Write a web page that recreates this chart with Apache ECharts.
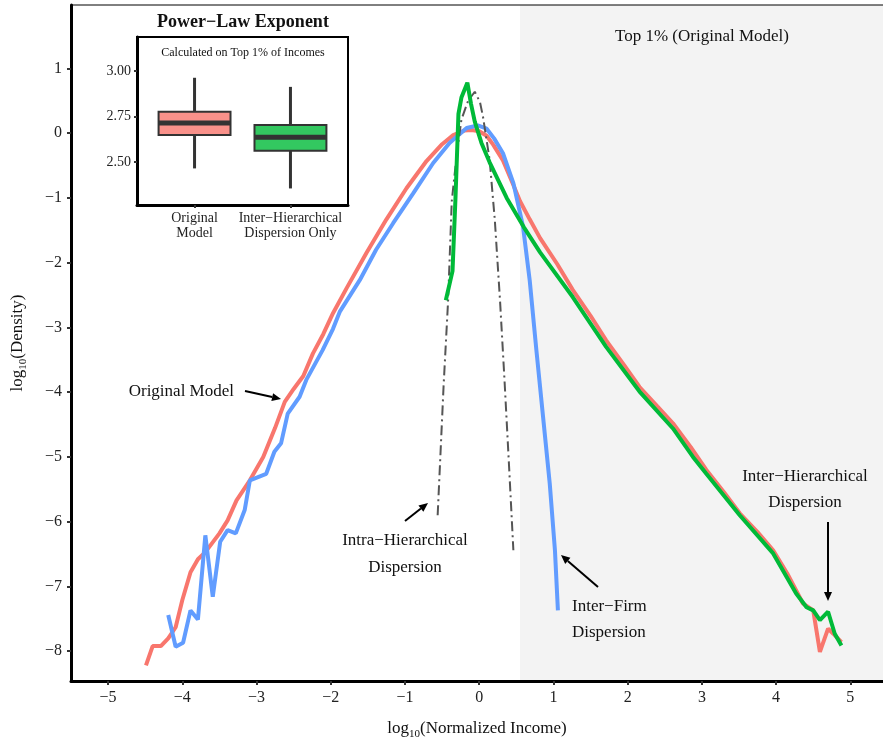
<!DOCTYPE html>
<html><head><meta charset="utf-8">
<script src="https://cdn.jsdelivr.net/npm/echarts@6/dist/echarts.min.js"></script>
<style>html,body{margin:0;padding:0;background:#fff}#c{width:883px;height:740px}</style>
</head><body><div id="c"></div>
<script>
// ---------- data ----------
const xTicks = [-5, -4, -3, -2, -1, 0, 1, 2, 3, 4, 5];
const yTicks = [-8, -7, -6, -5, -4, -3, -2, -1, 0, 1];
const top1Threshold = 0.55;

const originalModel = [
  [-4.49,-8.22],[-4.40,-7.92],[-4.29,-7.92],[-4.19,-7.80],[-4.09,-7.63],[-4.00,-7.21],
  [-3.89,-6.78],[-3.79,-6.58],[-3.69,-6.47],[-3.50,-6.18],[-3.39,-5.98],[-3.27,-5.67],
  [-3.09,-5.36],[-2.91,-5.00],[-2.75,-4.55],[-2.62,-4.15],[-2.50,-3.95],[-2.37,-3.75],
  [-2.24,-3.40],[-2.10,-3.10],[-1.97,-2.78],[-1.79,-2.40],[-1.52,-1.85],[-1.25,-1.33],
  [-0.98,-0.85],[-0.71,-0.43],[-0.50,-0.17],[-0.35,-0.03],[-0.20,0.04],[-0.10,0.05],
  [0.00,0.03],[0.10,-0.04],[0.19,-0.18],[0.32,-0.42],[0.46,-0.80],[0.55,-1.05],
  [0.68,-1.33],[0.82,-1.62],[1.05,-2.02],[1.26,-2.42],[1.50,-2.82],[1.71,-3.20],
  [1.95,-3.58],[2.16,-3.92],[2.40,-4.22],[2.61,-4.48],[2.85,-4.85],[3.06,-5.20],
  [3.30,-5.55],[3.51,-5.87],[3.75,-6.16],[3.96,-6.44],[4.15,-6.80],[4.36,-7.26],
  [4.50,-7.37],[4.59,-8.01],[4.70,-7.65],[4.77,-7.73],[4.88,-7.86]
];
const interFirm = [
  [-4.19,-7.44],[-4.09,-7.93],[-3.99,-7.87],[-3.89,-7.37],[-3.79,-7.51],[-3.69,-6.21],
  [-3.59,-7.16],[-3.49,-6.31],[-3.39,-6.13],[-3.28,-6.18],[-3.16,-5.82],[-3.09,-5.36],
  [-2.87,-5.26],[-2.76,-4.92],[-2.67,-4.79],[-2.58,-4.33],[-2.42,-4.07],[-2.33,-3.81],
  [-2.11,-3.35],[-1.97,-3.02],[-1.88,-2.76],[-1.61,-2.27],[-1.39,-1.80],[-1.16,-1.39],
  [-0.89,-0.93],[-0.62,-0.46],[-0.40,-0.15],[-0.17,0.08],[-0.02,0.12],[0.10,0.07],
  [0.20,-0.08],[0.32,-0.31],[0.46,-0.77],[0.59,-1.44],[0.68,-2.27],[0.77,-3.35],
  [0.86,-4.38],[0.95,-5.41],[1.02,-6.44],[1.06,-7.37]
];
const intraHierarchical = [
  [-0.56,-5.90],[-0.52,-4.90],[-0.48,-3.90],[-0.42,-2.60],[-0.37,-1.05],[-0.30,-0.30],
  [-0.24,0.21],[-0.15,0.50],[-0.06,0.64],[0.01,0.48],[0.05,0.26],[0.14,-0.41],
  [0.21,-1.34],[0.28,-2.58],[0.34,-3.80],[0.40,-5.10],[0.46,-6.44]
];
const interHierarchical = [
  [-0.45,-2.58],[-0.36,-2.13],[-0.32,-1.00],[-0.28,0.30],[-0.24,0.55],[-0.16,0.78],
  [-0.11,0.45],[-0.06,0.18],[0.03,-0.15],[0.14,-0.45],[0.37,-1.00],[0.60,-1.45],
  [0.82,-1.84],[1.26,-2.53],[1.71,-3.30],[2.16,-3.99],[2.61,-4.56],[2.88,-5.00],
  [3.06,-5.26],[3.51,-5.90],[3.96,-6.49],[4.27,-7.11],[4.41,-7.32],[4.50,-7.37],
  [4.59,-7.52],[4.70,-7.39],[4.79,-7.73],[4.88,-7.91]
];

const boxCategories = ['Original\nModel', 'Inter\u2212Hierarchical\nDispersion Only'];
const boxStats = [ // [min, q1, median, q3, max]
  [2.465, 2.649, 2.714, 2.776, 2.963],
  [2.355, 2.562, 2.636, 2.704, 2.913]
];
const boxColors = ['#F9918A', '#33C860'];
const boxTicks = [2.5, 2.75, 3.0];

// ---------- chart ----------
const FONT = '"Liberation Serif", "DejaVu Serif", serif';
const minus = v => String(v).replace('-', '\u2212');

function arrow(x1, y1, x2, y2) {
  const a = Math.atan2(y2 - y1, x2 - x1), L = 9, W = 4;
  const bx = x2 - L * Math.cos(a), by = y2 - L * Math.sin(a);
  return [
    { type: 'line', shape: { x1, y1, x2: bx, y2: by }, style: { stroke: '#000', lineWidth: 2 }, z: 100 },
    { type: 'polygon', shape: { points: [[x2, y2], [bx + W * Math.sin(a), by - W * Math.cos(a)], [bx - W * Math.sin(a), by + W * Math.cos(a)]] }, style: { fill: '#000' }, z: 100 }
  ];
}
function label(text, x, y, align, size, weight) {
  return { type: 'text', x, y, z: 100, style: { text, fill: '#111', font: (weight || 'normal') + ' ' + (size || 17) + 'px ' + FONT,
    align: align || 'center', verticalAlign: 'middle', textAlign: align || 'center', textVerticalAlign: 'middle' } };
}

const chart = echarts.init(document.getElementById('c'), null, { renderer: 'canvas' });
const lineSeries = (name, data, color, width, type, z) => ({
  name, type: 'line', data, xAxisIndex: 0, yAxisIndex: 0, showSymbol: false, symbol: 'none',
  lineStyle: { color, width, type: type || 'solid' }, z: z || 3, silent: true
});

chart.setOption({
  animation: false,
  backgroundColor: '#fff',
  grid: [
    { left: 71, right: 0, top: 5, bottom: 59, containLabel: false, outerBoundsMode: 'none' },
    { left: 137, top: 37, width: 211, height: 168, show: true, backgroundColor: '#fff', borderColor: '#000', borderWidth: 2, z: 10,
      containLabel: false, outerBoundsMode: 'none' }
  ],
  xAxis: [
    { type: 'value', gridIndex: 0, min: -5.5, max: 5.44, splitLine: { show: false }, z: 20,
      axisLine: { onZero: false, lineStyle: { color: '#000', width: 3 } },
      axisTick: { customValues: xTicks, length: 4, lineStyle: { color: '#333', width: 2 } },
      axisLabel: { customValues: xTicks, formatter: minus, color: '#222', fontFamily: FONT, fontSize: 16, margin: 9 },
      name: '{a|log}{s|10}{a|(Normalized Income)}', nameLocation: 'middle', nameGap: 37,
      nameTextStyle: { rich: { a: { fontFamily: FONT, fontSize: 17, color: '#111', lineHeight: 22 },
        s: { fontFamily: FONT, fontSize: 11, color: '#111', lineHeight: 22, verticalAlign: 'bottom', padding: [6, 0, 0, 0] } } } },
    { type: 'value', gridIndex: 1, min: 0.4, max: 2.6, splitLine: { show: false }, z: 21,
      axisLine: { onZero: false, lineStyle: { color: '#000', width: 3 } },
      axisTick: { customValues: [1, 2], length: 3, lineStyle: { color: '#333', width: 2 } },
      axisLabel: { customValues: [1, 2], formatter: v => boxCategories[Math.round(v) - 1], color: '#222', fontFamily: FONT, fontSize: 14, lineHeight: 15, margin: 6 } }
  ],
  yAxis: [
    { type: 'value', gridIndex: 0, min: -8.46, max: 1.98, splitLine: { show: false }, z: 20,
      axisLine: { onZero: false, lineStyle: { color: '#000', width: 3 } },
      axisTick: { customValues: yTicks, length: 4, lineStyle: { color: '#333', width: 2 } },
      axisLabel: { customValues: yTicks, formatter: minus, color: '#222', fontFamily: FONT, fontSize: 16, margin: 9 },
      name: '{a|log}{s|10}{a|(Density)}', nameLocation: 'middle', nameGap: 42, nameRotate: 90,
      nameTextStyle: { rich: { a: { fontFamily: FONT, fontSize: 17, color: '#111', lineHeight: 22 },
        s: { fontFamily: FONT, fontSize: 11, color: '#111', lineHeight: 22, verticalAlign: 'bottom', padding: [6, 0, 0, 0] } } } },
    { type: 'value', gridIndex: 1, min: 2.264, max: 3.187, splitLine: { show: false }, z: 21,
      axisLine: { onZero: false, lineStyle: { color: '#000', width: 3 } },
      axisTick: { customValues: boxTicks, length: 3, lineStyle: { color: '#333', width: 2 } },
      axisLabel: { customValues: boxTicks, formatter: v => v.toFixed(2), color: '#222', fontFamily: FONT, fontSize: 14, margin: 6 } }
  ],
  series: [
    { type: 'line', data: [], xAxisIndex: 0, yAxisIndex: 0, z: 1, silent: true,
      markArea: { silent: true, itemStyle: { color: '#F3F3F3' }, data: [[{ xAxis: top1Threshold }, { xAxis: 5.44 }]] } },
    lineSeries('Original Model', originalModel, '#F8766D', 4, 'solid', 3),
    lineSeries('Inter-Firm Dispersion', interFirm, '#619CFF', 4, 'solid', 4),
    lineSeries('Intra-Hierarchical Dispersion', intraHierarchical, '#555555', 2, [10, 4, 2, 4], 5),
    lineSeries('Inter-Hierarchical Dispersion', interHierarchical, '#00BA38', 4, 'solid', 6),
    { type: 'custom', xAxisIndex: 1, yAxisIndex: 1, z: 12, silent: true,
      data: boxStats.map((s, i) => [i + 1].concat(s)),
      renderItem: (params, api) => {
        const x = api.value(0), i = params.dataIndex;
        const pMin = api.coord([x, api.value(1)]), pQ1 = api.coord([x, api.value(2)]);
        const pMed = api.coord([x, api.value(3)]), pQ3 = api.coord([x, api.value(4)]);
        const pMax = api.coord([x, api.value(5)]);
        const w = api.size([0.75, 0])[0], cx = pMed[0];
        return { type: 'group', children: [
          { type: 'line', shape: { x1: cx, y1: pMax[1], x2: cx, y2: pMin[1] }, style: { stroke: '#333', lineWidth: 3 } },
          { type: 'rect', shape: { x: cx - w / 2, y: pQ3[1], width: w, height: pQ1[1] - pQ3[1] }, style: { fill: boxColors[i], stroke: '#333', lineWidth: 2 } },
          { type: 'line', shape: { x1: cx - w / 2, y1: pMed[1], x2: cx + w / 2, y2: pMed[1] }, style: { stroke: '#333', lineWidth: 5 } }
        ] };
      } }
  ],
  graphic: [].concat(
    [{ type: 'line', shape: { x1: 71, y1: 5, x2: 883, y2: 5 }, style: { stroke: '#000', lineWidth: 1 }, z: 100 }],
    [label('Power\u2212Law Exponent', 243, 22, 'center', 18, 'bold')],
    [label('Calculated on Top 1% of Incomes', 243, 53, 'center', 12)],
    [label('Top 1% (Original Model)', 702, 37, 'center', 17)],
    [label('Original Model', 234, 392, 'right', 17)], arrow(245, 391, 281, 399),
    [label('Intra\u2212Hierarchical', 405, 541), label('Dispersion', 405, 568)], arrow(405, 521, 428, 503),
    [label('Inter\u2212Firm', 572, 607, 'left'), label('Dispersion', 572, 633, 'left')], arrow(598, 587, 561, 555),
    [label('Inter\u2212Hierarchical', 805, 477), label('Dispersion', 805, 503)], arrow(828, 522, 828, 601)
  )
});
</script></body></html>
